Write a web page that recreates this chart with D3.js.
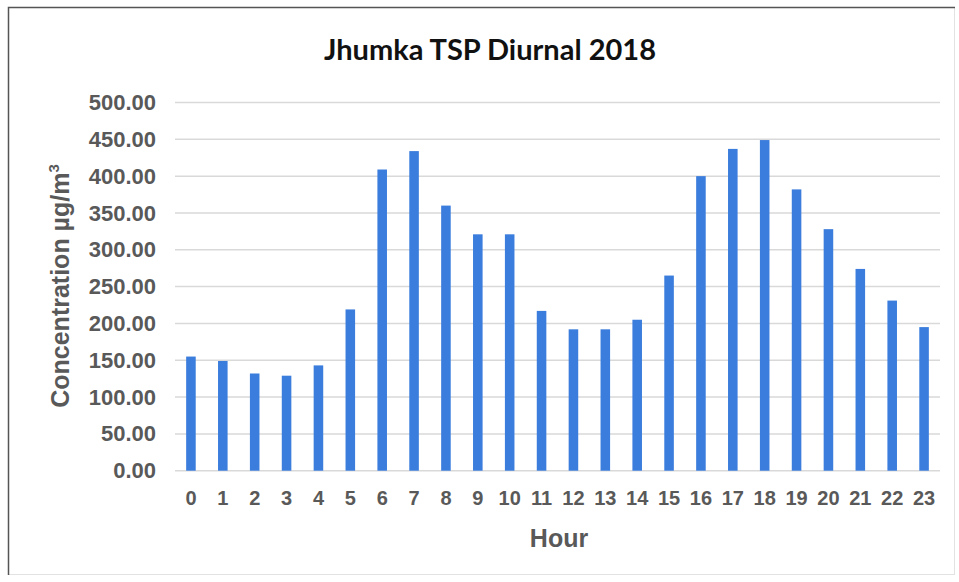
<!DOCTYPE html>
<html>
<head>
<meta charset="utf-8">
<script src="https://cdn.jsdelivr.net/npm/d3@7"></script>
<style>
  body { margin: 0; background: #fff; }
  text { font-family: "Liberation Sans", Arial, sans-serif; }
</style>
</head>
<body>
<div id="chart-area"></div>
<script>
// hourly TSP concentrations
var hours = d3.range(0, 24).map(String);
var tsp = [155, 149, 132, 129, 143, 219, 409, 434, 360, 321, 321, 217,
           192, 192, 205, 265, 400, 437, 449, 382, 328, 274, 231, 195];
var yTicks = [0, 50, 100, 150, 200, 250, 300, 350, 400, 450, 500];

var W = 959, H = 582;
var margin = { left: 175, right: 19, top: 102.5, bottom: 111.3 };

var svg = d3.select("#chart-area").append("svg")
    .attr("width", W)
    .attr("height", H);

// frame around the chart
svg.append("rect")
    .attr("x", 8.5).attr("y", 7.5)
    .attr("width", 946).attr("height", 567)
    .attr("fill", "none")
    .attr("stroke", "#e2e2e2");
svg.append("path")
    .attr("d", "M8.5,575 V7.5 H955")
    .attr("fill", "none")
    .attr("stroke", "#555")
    .attr("stroke-width", 1.5);

var x = d3.scaleBand()
    .domain(hours)
    .range([margin.left, W - margin.right])
    .paddingInner(0.7)
    .paddingOuter(0.35);

var y = d3.scaleLinear()
    .domain([0, 500])
    .range([H - margin.bottom, margin.top]);

// gridlines
svg.append("g")
    .selectAll("line")
    .data(yTicks)
    .enter().append("line")
    .attr("x1", margin.left)
    .attr("x2", W - margin.right)
    .attr("y1", (d) => y(d))
    .attr("y2", (d) => y(d))
    .attr("stroke", "#d9d9d9")
    .attr("stroke-width", 1.5);

// y axis labels
var yAxis = d3.axisLeft(y)
    .tickValues(yTicks)
    .tickFormat(d3.format(".2f"))
    .tickSize(0)
    .tickPadding(19);

svg.append("g")
    .attr("transform", "translate(" + margin.left + ",0)")
    .call(yAxis)
    .call((g) => g.select(".domain").remove())
    .selectAll("text")
    .attr("fill", "#595959")
    .attr("font-size", 22)
    .attr("font-weight", "bold")
    .attr("font-family", "Liberation Sans, Arial, sans-serif");

// x axis labels
var xAxis = d3.axisBottom(x).tickSize(0).tickPadding(20);

svg.append("g")
    .attr("transform", "translate(0," + y(0) + ")")
    .call(xAxis)
    .call((g) => g.select(".domain").remove())
    .selectAll("text")
    .attr("fill", "#595959")
    .attr("font-size", 20)
    .attr("font-weight", "bold")
    .attr("font-family", "Liberation Sans, Arial, sans-serif");

// bars
svg.append("g")
    .selectAll("rect")
    .data(tsp)
    .enter().append("rect")
    .attr("x", (d, i) => x(hours[i]))
    .attr("y", (d) => y(d))
    .attr("width", x.bandwidth())
    .attr("height", (d) => y(0) - y(d))
    .attr("fill", "#3b7ddd");

// title
svg.append("text")
    .attr("x", 490)
    .attr("y", 60)
    .attr("text-anchor", "middle")
    .attr("font-size", 29)
    .attr("font-weight", "bold")
    .attr("fill", "#111")
    .style("font-family", "'Liberation Sans Narrow', Lato, sans-serif")
    .text("Jhumka TSP Diurnal 2018");

// axis titles
svg.append("text")
    .attr("x", 559)
    .attr("y", 547)
    .attr("text-anchor", "middle")
    .attr("font-size", 25)
    .attr("font-weight", "bold")
    .attr("fill", "#595959")
    .text("Hour");

var yTitle = svg.append("text")
    .attr("transform", "translate(69,286) rotate(-90)")
    .attr("text-anchor", "middle")
    .attr("font-size", 25)
    .attr("font-weight", "bold")
    .attr("fill", "#595959");
yTitle.append("tspan").text("Concentration µg/m");
yTitle.append("tspan")
    .attr("font-size", 15)
    .attr("dy", -10)
    .text("3");
</script>
</body>
</html>
